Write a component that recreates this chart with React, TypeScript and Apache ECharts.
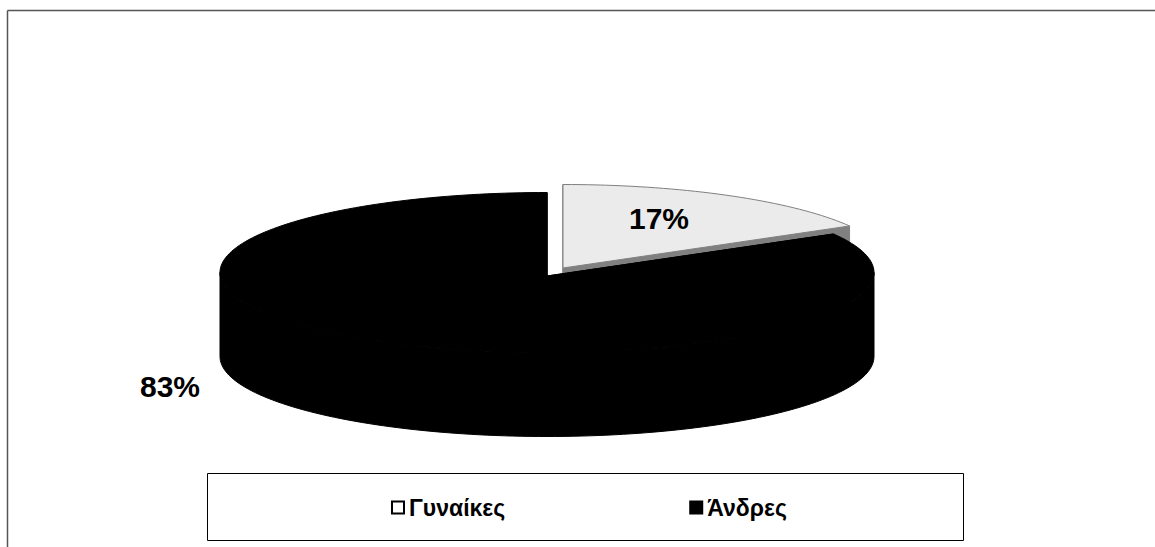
import React, { useEffect, useRef } from "react";
import * as echarts from "echarts";

const categories = ["Γυναίκες", "Άνδρες"];
const shares = [17, 83];
const topColors = ["#ebebeb", "#000000"];
const sideColors = ["#808080", "#000000"];
const edgeColors = ["#808080", "#000000"];
const legendFills = ["#ffffff", "#000000"];

const W = 1155;
const H = 547;
const CX = 547;
const CY = 272.5;
const APEX_Y = 276;
const RX = 327;
const RY = 80;
const DEPTH = 84;
// per-slice explode offset and label anchor
const offsets = [[16, -8], [0, 0]];
const labelPos = [[659, 218], [170, 386]];

const total = shares.reduce((a, b) => a + b, 0);

function sliceRender(index: number) {
  return (_params: any, api: any) => {
    const before = shares.slice(0, index).reduce((a, b) => a + b, 0);
    const from = (before / total) * Math.PI * 2;
    const to = from + (api.value(0) / total) * Math.PI * 2;
    const [dx, dy] = offsets[index];
    const pt = (t: number) => [
      CX + dx + RX * Math.sin(t),
      CY + dy - RY * Math.cos(t),
    ];
    const sample = (a: number, b: number) => {
      const steps = Math.max(8, Math.ceil(((b - a) / (Math.PI * 2)) * 240));
      const out: number[][] = [];
      for (let i = 0; i <= steps; i++) out.push(pt(a + ((b - a) * i) / steps));
      return out;
    };
    const arc = sample(from, to);
    const apex = [CX + dx, APEX_Y + dy];
    const down = (p: number[]) => [p[0], p[1] + DEPTH];
    const wallStyle = { fill: sideColors[index], stroke: sideColors[index], lineWidth: 1 };
    const children: any[] = [];
    // cut faces, back to front
    children.push(
      {
        type: "polygon",
        shape: { points: [apex, arc[0], down(arc[0]), down(apex)] },
        style: wallStyle,
      },
      {
        type: "polygon",
        shape: { points: [apex, arc[arc.length - 1], down(arc[arc.length - 1]), down(apex)] },
        style: wallStyle,
      }
    );
    // outer wall: only the part facing the viewer
    const wallFrom = Math.max(from, Math.PI / 2);
    const wallTo = Math.min(to, (Math.PI * 3) / 2);
    if (wallTo > wallFrom) {
      const front = sample(wallFrom, wallTo);
      children.push({
        type: "polygon",
        shape: { points: [...front, ...front.slice().reverse().map(down)] },
        style: wallStyle,
      });
    }
    // top face
    children.push(
      {
        type: "polygon",
        shape: { points: [apex, ...arc] },
        style: { fill: topColors[index], stroke: edgeColors[index], lineWidth: 1 },
      },
      {
        type: "text",
        z2: 10,
        style: {
          x: labelPos[index][0],
          y: labelPos[index][1],
          text: `${api.value(0)}%`,
          fill: "#000000",
          font: 'bold 30px "Liberation Sans", Arial, sans-serif',
          align: "center",
          verticalAlign: "middle",
        },
      }
    );
    return { type: "group", children };
  };
}

export default function App() {
  const ref = useRef<HTMLDivElement>(null);
  useEffect(() => {
    document.body.style.margin = "0";
    document.body.style.background = "#ffffff";
    const chart = echarts.init(ref.current!, null, { renderer: "svg" });
    chart.setOption({
      animation: false,
      backgroundColor: "#ffffff",
      legend: {
        data: categories.map((name, i) => ({
          name,
          icon: "rect",
          itemStyle: {
            color: legendFills[i],
            borderColor: "#000000",
            borderWidth: 2,
          },
        })),
        left: 386,
        top: 491,
        orient: "horizontal",
        itemWidth: 12,
        itemHeight: 12,
        itemGap: 184,
        selectedMode: false,
        textStyle: {
          fontFamily: '"Liberation Sans", Arial, sans-serif',
          fontWeight: "bold",
          fontSize: 23,
          color: "#000000",
        },
      },
      graphic: [
        { type: "line", silent: true, shape: { x1: 7.5, y1: 10.5, x2: W, y2: 10.5 }, style: { stroke: "#555555", lineWidth: 1.5 } },
        { type: "line", silent: true, shape: { x1: 7.5, y1: 10.5, x2: 7.5, y2: H }, style: { stroke: "#555555", lineWidth: 1.5 } },
        { type: "rect", silent: true, shape: { x: 207.5, y: 473.5, width: 756, height: 67 }, style: { fill: "#ffffff", stroke: "#000000", lineWidth: 1 }, z: -1 },
      ],
      series: categories.map((name, i) => ({
        type: "custom",
        name,
        coordinateSystem: "none",
        silent: true,
        itemStyle: { color: topColors[i] },
        renderItem: sliceRender(i),
        data: [shares[i]],
      })),
    });
    return () => chart.dispose();
  }, []);
  return <div ref={ref} style={{ width: W, height: H }} />;
}
